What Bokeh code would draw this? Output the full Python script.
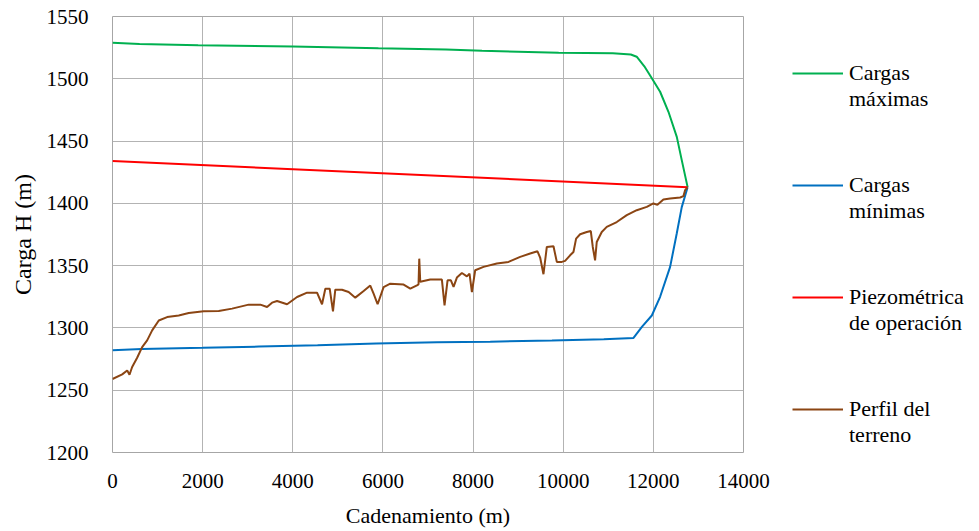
import math
from bokeh.plotting import figure
from bokeh.models import Legend, LegendItem, FixedTicker
from bokeh.embed import file_html
from bokeh.resources import INLINE

# ---------------- data ----------------
max_x = [0, 600, 1900, 4000, 5900, 7400, 8200, 9900, 11100, 11500, 11630, 11800, 11966, 12150, 12335, 12520, 12630, 12760]
max_y = [1529, 1528, 1527, 1526, 1524.5, 1523.5, 1522.5, 1521, 1520.5, 1519.5, 1517.7, 1510, 1500.4, 1489.6, 1473.5, 1453.4, 1434.7, 1413]

min_x = [0, 650, 2000, 3250, 4550, 5850, 7200, 8380, 9750, 10900, 11560, 11750, 11966, 12150, 12372, 12520, 12630, 12760]
min_y = [1282, 1283, 1284, 1285, 1286, 1287.5, 1288.5, 1289, 1290, 1291, 1292, 1301, 1310, 1325, 1349, 1376, 1397, 1413]

piezo_x = [0, 12760]
piezo_y = [1434, 1413]

terr_x = [0, 215, 326, 377, 436, 547, 658, 769, 880, 1027, 1212, 1470, 1692, 2024, 2357, 2653, 3022, 3281,
          3429, 3540, 3651, 3873, 4095, 4317, 4538, 4649, 4722, 4819, 4892, 4943, 5091, 5239, 5387, 5572,
          5719, 5793, 5882, 6015, 6163, 6459, 6607, 6755, 6790, 6806, 6828, 7050, 7308, 7367, 7434, 7508,
          7567, 7641, 7752, 7863, 7921, 7974, 8047, 8232, 8528, 8786, 9045, 9267, 9429, 9488, 9562, 9636,
          9784, 9858, 9969, 10042, 10153, 10227, 10286, 10375, 10523, 10612, 10656, 10707, 10744, 10855,
          10966, 11188, 11410, 11632, 11854, 12001, 12090, 12223, 12372, 12594, 12668, 12704, 12756]
terr_y = [1259, 1262.7, 1265.9, 1262.4, 1268.6, 1276.1, 1284.6, 1290, 1298, 1306, 1308.7, 1310, 1312, 1313.3,
          1313.6, 1315.5, 1318.7, 1318.7, 1316.8, 1320.3, 1321.6, 1319, 1324.8, 1328.3, 1328.3, 1319, 1331.5,
          1331.5, 1313.3, 1330.7, 1330.7, 1328.8, 1324.3, 1329.6, 1334, 1327.5, 1319, 1332.8, 1335.5, 1334.8,
          1331.5, 1334.2, 1335, 1355.6, 1337, 1338.8, 1338.8, 1318.1, 1338.2, 1338.2, 1332.9, 1340.4, 1344.1,
          1341.4, 1343.6, 1328.8, 1346.3, 1349, 1351.7, 1353, 1357, 1359.7, 1361.5, 1356.5, 1343.1, 1365,
          1365.6, 1353, 1353, 1353.8, 1358.3, 1361, 1371.7, 1375.2, 1377, 1377.8, 1365, 1354.3, 1369, 1377,
          1381.1, 1385, 1390.5, 1394.5, 1397.2, 1399.9, 1398.8, 1403.1, 1403.9, 1404.7, 1405.8, 1410.6, 1412.7]

x_ticks = [0, 2000, 4000, 6000, 8000, 10000, 12000, 14000]
y_ticks = [1200, 1250, 1300, 1350, 1400, 1450, 1500, 1550]

series_labels = [" \nCargas\nmáximas", " \nCargas\nmínimas", " \nPiezométrica\nde operación", " \nPerfil del\nterreno"]
series_colors = ["#00b050", "#0070c0", "#ff0000", "#8b4513"]

FONT = "'Liberation Serif', 'Times New Roman', 'DejaVu Serif', serif"

p = figure(frame_width=631, frame_height=436,
           x_range=(0, 14000), y_range=(1200, 1550),
           output_backend="svg", toolbar_location=None,
           min_border_left=112, min_border_top=16, min_border_right=230, min_border_bottom=0,
           outline_line_color="#a6a6a6", outline_line_width=1,
           background_fill_color="white", border_fill_color="white")

r_max = p.line(max_x, max_y, line_color=series_colors[0], line_width=2)
r_min = p.line(min_x, min_y, line_color=series_colors[1], line_width=2)
r_pz = p.line(piezo_x, piezo_y, line_color=series_colors[2], line_width=2)
r_tr = p.line(terr_x, terr_y, line_color=series_colors[3], line_width=2)

p.xaxis.ticker = FixedTicker(ticks=x_ticks)
p.yaxis.ticker = FixedTicker(ticks=y_ticks)
for ax in (p.xaxis[0], p.yaxis[0]):
    ax.axis_line_color = None
    ax.major_tick_line_color = None
    ax.minor_tick_line_color = None
    ax.major_label_text_font = FONT
    ax.major_label_text_font_size = "21px"
    ax.major_label_text_color = "black"
    ax.axis_label_text_font = FONT
    ax.axis_label_text_font_style = "normal"
    ax.axis_label_text_color = "black"

p.xaxis.major_label_standoff = 15
p.xaxis.axis_label = "Cadenamiento (m)"
p.xaxis.axis_label_text_font_size = "22px"
p.xaxis.axis_label_standoff = 12
p.yaxis.major_label_standoff = 18
p.yaxis.axis_label = "Carga H (m)"
p.yaxis.axis_label_text_font_size = "24px"
p.yaxis.axis_label_standoff = 8

p.xgrid.grid_line_color = "#b3b3b3"
p.ygrid.grid_line_color = "#b3b3b3"

legend = Legend(items=[LegendItem(label=series_labels[i], renderers=[r])
                       for i, r in enumerate([r_max, r_min, r_pz, r_tr])],
                location=(49, 4), orientation="vertical",
                border_line_color=None, background_fill_alpha=0,
                label_text_font=FONT, label_text_font_size="22px", label_text_color="black",
                glyph_width=51, glyph_height=20, label_standoff=6,
                spacing=34, padding=0, margin=0)
p.add_layout(legend, "right")

open("out.html", "w").write(file_html(p, INLINE))
